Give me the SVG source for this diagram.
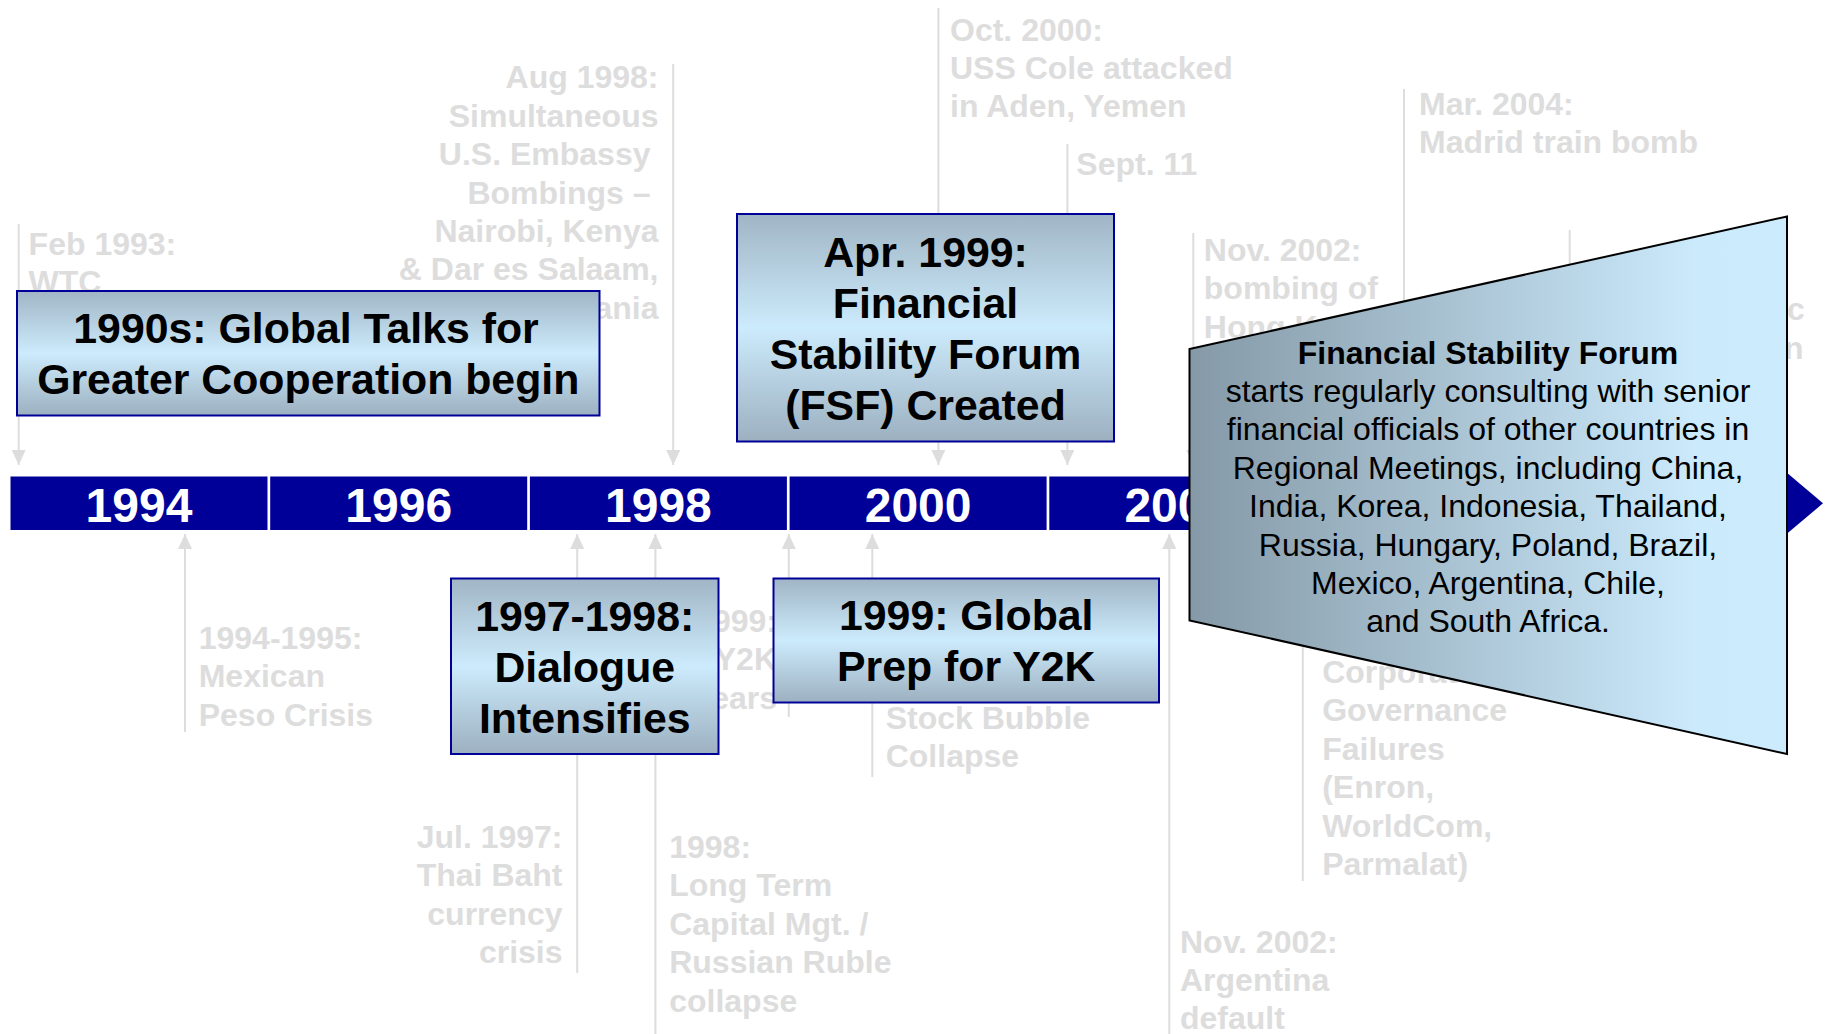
<svg xmlns="http://www.w3.org/2000/svg" width="1825" height="1034" viewBox="0 0 1825 1034">
<defs>
<linearGradient id="boxGrad" x1="0" y1="0" x2="0" y2="1">
<stop offset="0" stop-color="#A0B5C5"/>
<stop offset="0.5" stop-color="#CCEBFC"/>
<stop offset="1" stop-color="#9CB0C0"/>
</linearGradient>
<linearGradient id="trapGrad" x1="0" y1="0" x2="1" y2="0">
<stop offset="0" stop-color="#8599A7"/>
<stop offset="0.85" stop-color="#CBEAFC"/>
<stop offset="1" stop-color="#CCEBFD"/>
</linearGradient>
<marker id="ah" viewBox="0 0 15 14" refX="15" refY="7" markerWidth="15" markerHeight="14" orient="auto" markerUnits="userSpaceOnUse">
<path d="M0,0 L15,7 L0,14 Z" fill="#DDDDDD"/>
</marker>
<style>
.ev{font-family:"Liberation Sans",Arial,sans-serif;font-weight:bold;font-size:32px;fill:#DDDDDD}
.end{text-anchor:end}
.con{stroke:#DDDDDD;stroke-width:2;fill:none;marker-end:url(#ah)}
.seg{fill:#000099}
.yr{font-family:"Liberation Sans",Arial,sans-serif;font-weight:bold;font-size:48px;fill:#FFFFFF;text-anchor:middle}
.box{fill:url(#boxGrad);stroke:#000099;stroke-width:2}
.bt{font-family:"Liberation Sans",Arial,sans-serif;font-weight:bold;font-size:42.8px;fill:#000000;text-anchor:middle}
.ft{font-family:"Liberation Sans",Arial,sans-serif;font-size:32px;fill:#000000;text-anchor:middle}
</style>
</defs>
<rect width="1825" height="1034" fill="#FFFFFF"/>

<g id="connectors">
<line class="con" x1="18.7" y1="224" x2="18.7" y2="465"/>
<line class="con" x1="673.2" y1="64" x2="673.2" y2="465"/>
<line class="con" x1="938.4" y1="8" x2="938.4" y2="465"/>
<line class="con" x1="1067.4" y1="144" x2="1067.4" y2="465"/>
<line class="con" x1="1193.3" y1="233" x2="1193.3" y2="465"/>
<line class="con" x1="1404" y1="89" x2="1404" y2="465"/>
<line class="con" x1="1569.7" y1="230" x2="1569.7" y2="465"/>
<line class="con" x1="185" y1="732" x2="185" y2="534"/>
<line class="con" x1="577.2" y1="973" x2="577.2" y2="534"/>
<line class="con" x1="655.4" y1="1034" x2="655.4" y2="534"/>
<line class="con" x1="788.8" y1="717" x2="788.8" y2="534"/>
<line class="con" x1="872.3" y1="777" x2="872.3" y2="534"/>
<line class="con" x1="1169.3" y1="1034" x2="1169.3" y2="534"/>
<line class="con" x1="1302.8" y1="881" x2="1302.8" y2="534"/>
</g>

<g id="ev-feb1993" class="ev">
<text x="28.6" y="255">Feb 1993:</text>
<text x="28.6" y="293.4">WTC</text>
</g>
<g id="ev-aug1998" class="ev end">
<text x="658.5" y="88.3">Aug 1998:</text>
<text x="658.5" y="126.7">Simultaneous</text>
<text x="650.5" y="165.1">U.S. Embassy</text>
<text x="650.5" y="203.5">Bombings –</text>
<text x="658.5" y="241.9">Nairobi, Kenya</text>
<text x="658.5" y="280.3">&amp; Dar es Salaam,</text>
<text x="658.5" y="318.7">Tanzania</text>
</g>
<g id="ev-oct2000" class="ev">
<text x="950" y="40.5">Oct. 2000:</text>
<text x="950" y="78.9">USS Cole attacked</text>
<text x="950" y="117.3">in Aden, Yemen</text>
</g>
<g id="ev-sept11" class="ev">
<text x="1076.3" y="175">Sept. 11</text>
</g>
<g id="ev-nov2002-bomb" class="ev">
<text x="1203.8" y="261">Nov. 2002:</text>
<text x="1203.8" y="299.4">bombing of</text>
<text x="1203.8" y="337.8">Hong K</text>
</g>
<g id="ev-mar2004" class="ev">
<text x="1419" y="115">Mar. 2004:</text>
<text x="1419" y="153.4">Madrid train bomb</text>
</g>
<g id="ev-right" class="ev">
<text x="1787" y="320.1">c</text>
<text x="1784" y="358.5">n</text>
</g>
<g id="ev-mexico" class="ev">
<text x="198.7" y="649">1994-1995:</text>
<text x="198.7" y="687.4">Mexican</text>
<text x="198.7" y="725.8">Peso Crisis</text>
</g>
<g id="ev-thai" class="ev end">
<text x="562.5" y="848">Jul. 1997:</text>
<text x="562.5" y="886.4">Thai Baht</text>
<text x="562.5" y="924.8">currency</text>
<text x="562.5" y="963.2">crisis</text>
</g>
<g id="ev-ltcm" class="ev">
<text x="669.2" y="858">1998:</text>
<text x="669.2" y="896.4">Long Term</text>
<text x="669.2" y="934.8">Capital Mgt. /</text>
<text x="669.2" y="973.2">Russian Ruble</text>
<text x="669.2" y="1011.6">collapse</text>
</g>
<g id="ev-y2k" class="ev end">
<text x="777" y="632">1999:</text>
<text x="777" y="670.4">Y2K</text>
<text x="777" y="708.8">Fears</text>
</g>
<g id="ev-stock" class="ev">
<text x="885.7" y="728.8">Stock Bubble</text>
<text x="885.7" y="767.2">Collapse</text>
</g>
<g id="ev-argentina" class="ev">
<text x="1180" y="952.5">Nov. 2002:</text>
<text x="1180" y="990.9">Argentina</text>
<text x="1180" y="1029.3">default</text>
</g>
<g id="ev-corporate" class="ev">
<text x="1322.2" y="683">Corporate</text>
<text x="1322.2" y="721.4">Governance</text>
<text x="1322.2" y="759.8">Failures</text>
<text x="1322.2" y="798.2">(Enron,</text>
<text x="1322.2" y="836.6">WorldCom,</text>
<text x="1322.2" y="875">Parmalat)</text>
</g>

<g id="timeline">
<rect class="seg" x="10.5" y="476.5" width="257" height="53.5"/>
<rect class="seg" x="270.2" y="476.5" width="257" height="53.5"/>
<rect class="seg" x="529.9" y="476.5" width="257" height="53.5"/>
<rect class="seg" x="789.6" y="476.5" width="257" height="53.5"/>
<rect class="seg" x="1049.3" y="476.5" width="257" height="53.5"/>
<rect class="seg" x="1309" y="476.5" width="452" height="53.5"/>
<polygon class="seg" points="1760,450 1823,503.3 1760,556.6"/>
<text class="yr" x="139" y="521.7">1994</text>
<text class="yr" x="398.7" y="521.7">1996</text>
<text class="yr" x="658.4" y="521.7">1998</text>
<text class="yr" x="918.1" y="521.7">2000</text>
<text class="yr" x="1177.8" y="521.7">2002</text>
</g>

<g id="box-1990s">
<rect class="box" x="17" y="291" width="582.5" height="124.5"/>
<text class="bt" x="306" y="343.3">1990s: Global Talks for</text>
<text class="bt" x="308.25" y="394.3">Greater Cooperation begin</text>
</g>
<g id="box-fsf">
<rect class="box" x="737" y="214" width="377" height="227.5"/>
<text class="bt" x="925.5" y="266.5">Apr. 1999:</text>
<text class="bt" x="925.5" y="317.5">Financial</text>
<text class="bt" x="925.5" y="368.5">Stability Forum</text>
<text class="bt" x="925.5" y="419.5">(FSF) Created</text>
</g>
<g id="box-dialogue">
<rect class="box" x="451" y="578.5" width="267.5" height="175.5"/>
<text class="bt" x="584.75" y="630.5">1997-1998:</text>
<text class="bt" x="584.75" y="681.5">Dialogue</text>
<text class="bt" x="584.75" y="732.5">Intensifies</text>
</g>
<g id="box-y2k">
<rect class="box" x="773.5" y="578.5" width="385.5" height="124"/>
<text class="bt" x="966.25" y="630.2">1999: Global</text>
<text class="bt" x="966.25" y="681.2">Prep for Y2K</text>
</g>

<g id="fsf-callout">
<polygon points="1189.5,349 1787,216.5 1787,754 1189.5,620.4" fill="url(#trapGrad)" stroke="#000000" stroke-width="2"/>
<text class="ft" x="1488" y="363.5" font-weight="bold">Financial Stability Forum</text>
<text class="ft" x="1488" y="401.9">starts regularly consulting with senior</text>
<text class="ft" x="1488" y="440.3">financial officials of other countries in</text>
<text class="ft" x="1488" y="478.7">Regional Meetings, including China,</text>
<text class="ft" x="1488" y="517.1">India, Korea, Indonesia, Thailand,</text>
<text class="ft" x="1488" y="555.5">Russia, Hungary, Poland, Brazil,</text>
<text class="ft" x="1488" y="593.9">Mexico, Argentina, Chile,</text>
<text class="ft" x="1488" y="632.3">and South Africa.</text>
</g>
</svg>
